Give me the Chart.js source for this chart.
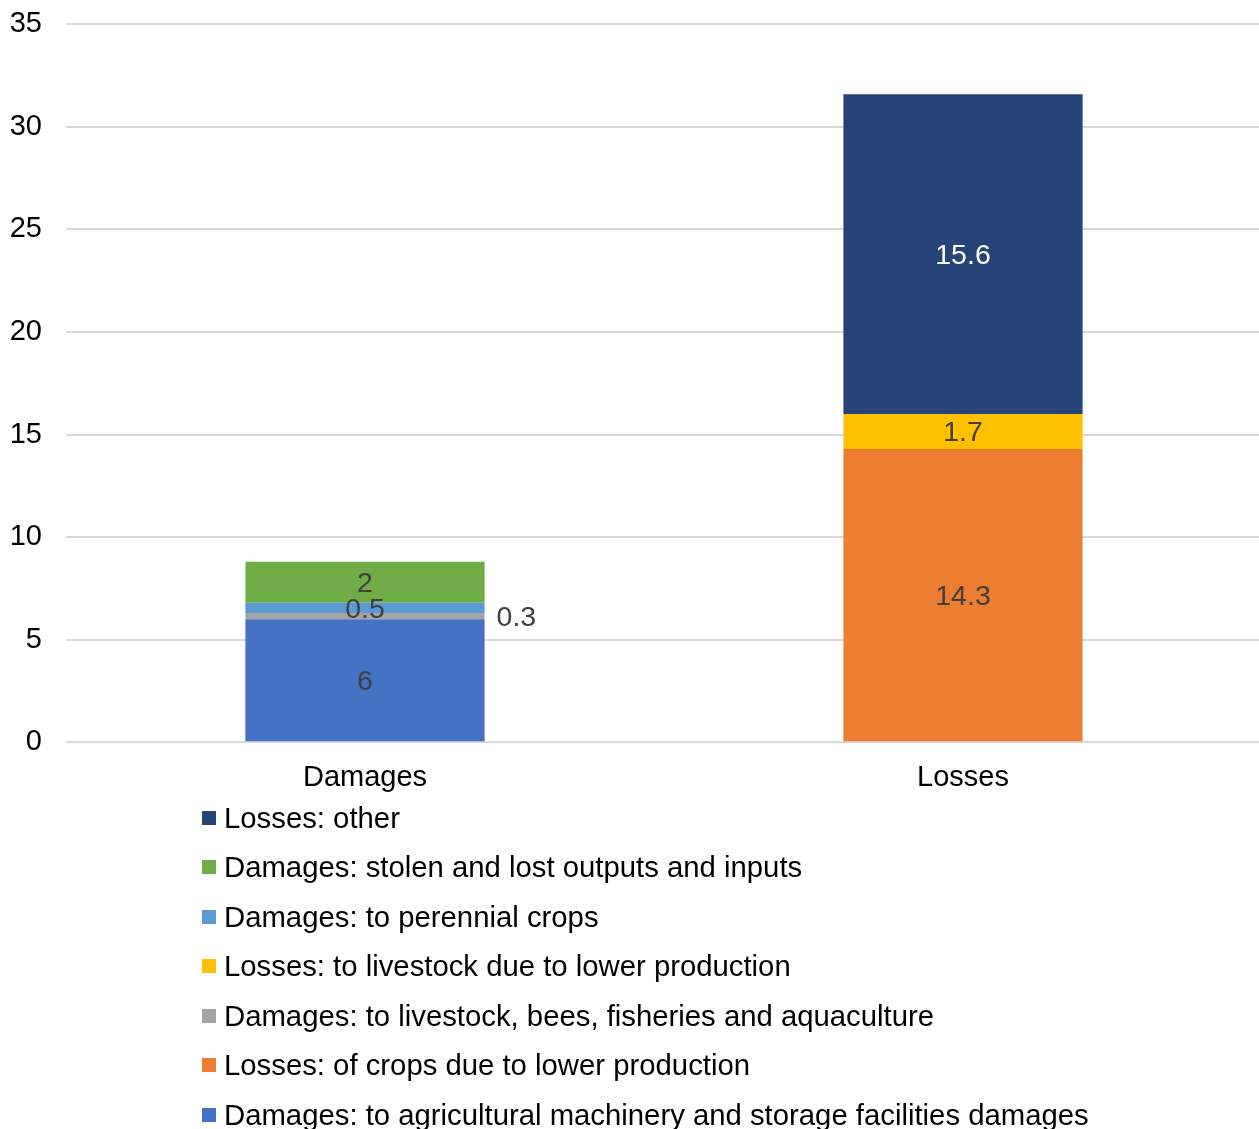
<!DOCTYPE html>
<html>
<head>
<meta charset="utf-8">
<script src="https://cdn.jsdelivr.net/npm/chart.js@4.4.0/dist/chart.umd.min.js"></script>
<style>
    body { margin: 0; background: #fff; font-family: "Liberation Sans", Arial, sans-serif; }
    #wrap { position: relative; width: 1259px; height: 1129px; overflow: hidden; }
    #barChart { position: absolute; left: 0; top: -17px; }
    #legend { position: absolute; left: 202px; top: 793px; margin: 0; padding: 0; list-style: none; }
    #legend li { display: flex; align-items: center; height: 49.5px; font-size: 29.3px; color: #000; white-space: nowrap; }
    #legend span.box { display: inline-block; width: 14px; height: 14px; margin-right: 8px; }
</style>
</head>
<body>
<div id="wrap">
    <canvas id="barChart" width="1262" height="836"></canvas>
    <ul id="legend"></ul>
</div>
<script>
var categories = ["Damages", "Losses"];

// stack order, bottom to top
var seriesNames = [
    "Damages: to agricultural machinery and storage facilities damages",
    "Losses: of crops due to lower production",
    "Damages: to livestock, bees, fisheries and aquaculture",
    "Losses: to livestock due to lower production",
    "Damages: to perennial crops",
    "Damages: stolen and lost outputs and inputs",
    "Losses: other"
];
var damagesValues = [6, null, 0.3, null, 0.5, 2, null];
var lossesValues = [null, 14.3, null, 1.7, null, null, 15.6];
var seriesColors = ["#4472C4", "#ED7D31", "#A5A5A5", "#FFC000", "#5B9BD5", "#70AD47", "#264478"];
var labelColors = ["#404040", "#404040", "#404040", "#404040", "#404040", "#404040", "#FFFFFF"];
var yTicks = [0, 5, 10, 15, 20, 25, 30, 35];

var fontFamily = '"Liberation Sans", Arial, sans-serif';

function buildDatasets() {
    var sets = [];
    for (var i = 0; i < seriesNames.length; i++) {
        sets.push({
            label: seriesNames[i],
            data: [damagesValues[i], lossesValues[i]],
            backgroundColor: seriesColors[i],
            borderWidth: 0,
            stack: "s"
        });
    }
    return sets;
}

// draws the value of each segment in the middle of it
var valueLabels = {
    id: "valueLabels",
    afterDatasetsDraw: function (chart) {
        var ctx = chart.ctx;
        ctx.save();
        ctx.font = "28.5px " + fontFamily;
        ctx.textBaseline = "middle";
        chart.data.datasets.forEach(function (ds, i) {
            var meta = chart.getDatasetMeta(i);
            meta.data.forEach(function (bar, j) {
                var v = ds.data[j];
                if (v === null || v === undefined) return;
                var midY = (bar.y + bar.base) / 2 + 2;
                ctx.fillStyle = labelColors[i];
                if (v < 0.4) {
                    // too thin, put it outside
                    ctx.textAlign = "left";
                    ctx.fillText(String(v), bar.x + bar.width / 2 + 12, midY);
                } else {
                    ctx.textAlign = "center";
                    ctx.fillText(String(v), bar.x, midY);
                }
            });
        });
        ctx.restore();
    }
};

var chart = new Chart(document.getElementById("barChart").getContext("2d"), {
    type: "bar",
    data: {
        labels: categories,
        datasets: buildDatasets()
    },
    plugins: [valueLabels],
    options: {
        responsive: false,
        animation: false,
        layout: { padding: { left: 10, right: 0, top: 7, bottom: 6 } },
        datasets: { bar: { categoryPercentage: 1, barPercentage: 0.4 } },
        plugins: {
            legend: { display: false },
            tooltip: { enabled: false }
        },
        scales: {
            x: {
                stacked: true,
                grid: { display: false, drawTicks: false },
                border: { display: false },
                ticks: { color: "#000", padding: 18, font: { size: 29, family: fontFamily } }
            },
            y: {
                stacked: true,
                min: 0,
                max: 35,
                afterBuildTicks: function (axis) {
                    axis.ticks = yTicks.map(function (v) { return { value: v }; });
                },
                afterFit: function (axis) {
                    axis.width = 56;
                },
                grid: { color: "#D9D9D9", lineWidth: 2, drawTicks: false },
                border: { display: false },
                ticks: { color: "#000", padding: 24, font: { size: 29, family: fontFamily } }
            }
        }
    }
});

// legend, reversed like the original
var items = chart.options.plugins.legend.labels.generateLabels(chart).reverse();
var ul = document.getElementById("legend");
items.forEach(function (it) {
    var li = document.createElement("li");
    var box = document.createElement("span");
    box.className = "box";
    box.style.background = it.fillStyle;
    li.appendChild(box);
    li.appendChild(document.createTextNode(it.text));
    ul.appendChild(li);
});
</script>
</body>
</html>
